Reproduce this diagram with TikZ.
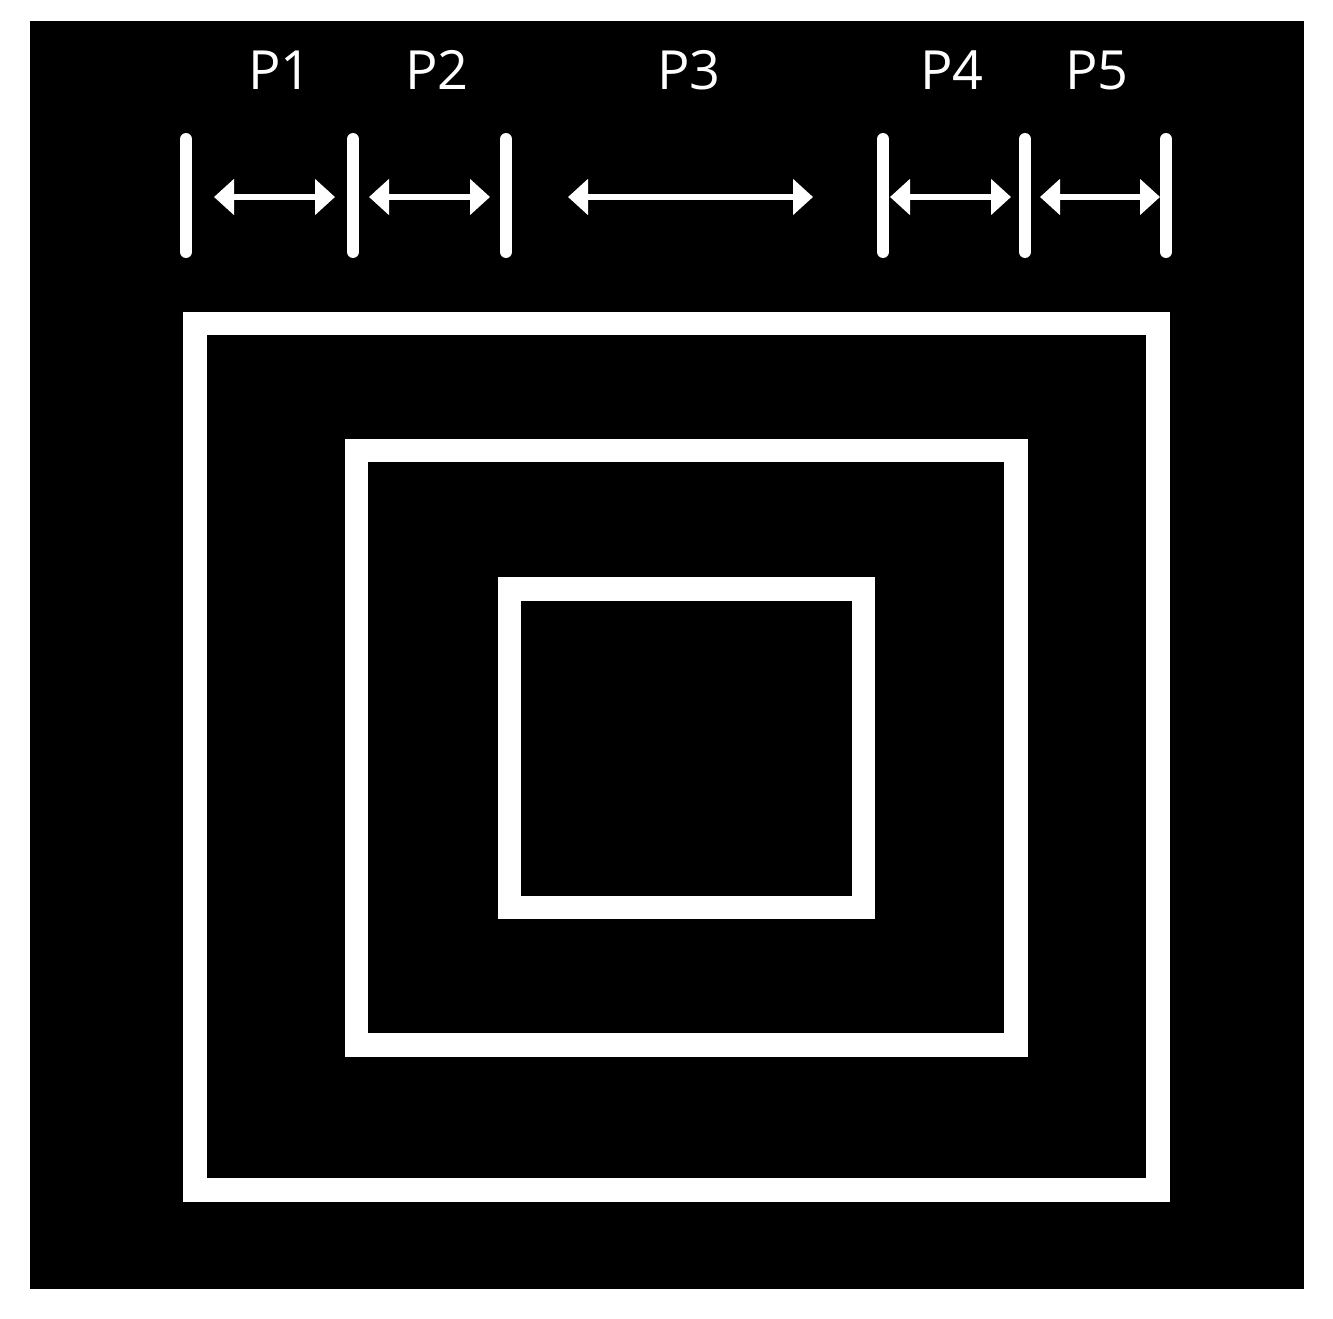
\documentclass[tikz,border=0pt]{standalone}
\usepackage{fontspec}
\setmainfont{Open Sans}
\usepackage{tikz}
\usetikzlibrary{calc}
\usetikzlibrary{arrows.meta,positioning}

\begin{document}
\begin{tikzpicture}[x=1pt,y=-1pt,
    bar/.style={white,line width=12pt,line cap=round},
    span/.style={white,line width=6pt,{Triangle[length=20pt,width=35pt]}-{Triangle[length=20pt,width=35pt]}},
    frame/.style={white,line width=23.5pt},
    lbl/.style={white,font=\fontsize{54}{60}\selectfont,inner sep=0pt}]
        \useasboundingbox[fill=white] (0,0) rectangle (1333,1319);
        \fill[black] (30,21) rectangle (1304,1289);
        % cut positions
        \foreach \n/\x in {1/186,2/353,3/506,4/883,5/1025,6/1166} {
          \coordinate (b\n) at (\x,197);
          \draw[bar] ($(b\n)+(0,-58)$)--($(b\n)+(0,55)$);
        }
        \coordinate (q1) at (568,197);
        \coordinate (q2) at (813,197);
        \draw[span] ([xshift=28pt]b1)--([xshift=-18pt]b2);
        \draw[span] ([xshift=16pt]b2)--([xshift=-16pt]b3);
        \draw[span] (q1)--(q2);
        \draw[span] ([xshift=7pt]b4)--([xshift=-14pt]b5);
        \draw[span] ([xshift=15pt]b5)--([xshift=-6pt]b6);
        \node[lbl] (P1) at (280,70) {P1};
        \node[lbl] (P2) at (437,70) {P2};
        \node[lbl] (P3) at (689,70) {P3};
        \node[lbl] (P4) at (952,70) {P4};
        \node[lbl] (P5) at (1097,70) {P5};
        % nested frames
        \draw[frame] (195,323.5) rectangle (1158,1190);
        \draw[frame] (356.5,450.5) rectangle (1016,1045);
        \draw[frame] (509.5,589) rectangle (863.5,907.5);
      \end{tikzpicture}
\end{document}
